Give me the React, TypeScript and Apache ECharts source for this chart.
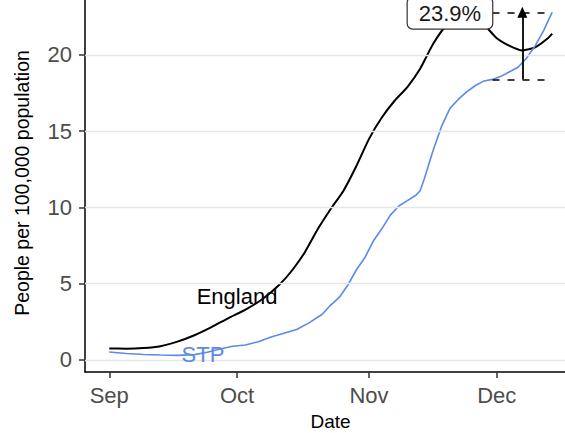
import React, { useEffect, useRef } from 'react';
import * as echarts from 'echarts';

// ---- data ----
const englandDates = [
  '2020-09-01', '2020-09-05', '2020-09-09', '2020-09-13', '2020-09-17', '2020-09-21',
  '2020-09-25', '2020-09-29', '2020-10-03', '2020-10-07', '2020-10-11', '2020-10-14',
  '2020-10-17', '2020-10-20', '2020-10-23', '2020-10-26', '2020-10-29', '2020-11-01',
  '2020-11-04', '2020-11-07', '2020-11-10', '2020-11-13', '2020-11-16', '2020-11-19',
  '2020-11-22', '2020-11-25', '2020-11-28', '2020-12-01', '2020-12-04', '2020-12-07',
  '2020-12-10', '2020-12-13', '2020-12-14',
];
const englandValues = [
  0.75, 0.74, 0.78, 0.9, 1.2, 1.62,
  2.15, 2.75, 3.3, 4.0, 4.95, 5.9,
  7.1, 8.6, 9.9, 11.1, 12.7, 14.5,
  15.9, 17.0, 17.9, 19.1, 20.7, 21.9,
  22.6, 22.7, 22.0, 21.1, 20.6, 20.3,
  20.5, 21.1, 21.4,
];

const stpDates = [
  '2020-09-01', '2020-09-05', '2020-09-09', '2020-09-13', '2020-09-17', '2020-09-21',
  '2020-09-24', '2020-09-27', '2020-09-30', '2020-10-03', '2020-10-06', '2020-10-09',
  '2020-10-12', '2020-10-15', '2020-10-18', '2020-10-21', '2020-10-23', '2020-10-25',
  '2020-10-27', '2020-10-29', '2020-10-31', '2020-11-02', '2020-11-04', '2020-11-06',
  '2020-11-08', '2020-11-10', '2020-11-12', '2020-11-13', '2020-11-14', '2020-11-16',
  '2020-11-18', '2020-11-20', '2020-11-22', '2020-11-24', '2020-11-26', '2020-11-28',
  '2020-11-30', '2020-12-02', '2020-12-04', '2020-12-06', '2020-12-08', '2020-12-10',
  '2020-12-12', '2020-12-13', '2020-12-14',
];
const stpValues = [
  0.52, 0.42, 0.36, 0.32, 0.3, 0.35,
  0.5, 0.72, 0.9, 0.98, 1.2, 1.5,
  1.75, 2.0, 2.45, 3.0, 3.6, 4.1,
  4.9, 5.9, 6.7, 7.8, 8.6, 9.5,
  10.1, 10.45, 10.8, 11.1, 11.9, 13.7,
  15.3, 16.5, 17.1, 17.6, 18.0, 18.3,
  18.4, 18.6, 18.9, 19.2, 19.8, 20.6,
  21.6, 22.2, 22.8,
];

const tickDates = ['2020-09-01', '2020-10-01', '2020-11-01', '2020-12-01'];
const tickLabels = ['Sep', 'Oct', 'Nov', 'Dec'];
const yTicks = [0, 5, 10, 15, 20];

const seriesNames = ['England', 'STP'];
const englandLabelAt = { date: '2020-10-01', value: 4.13 };
const stpLabelAt = { date: '2020-09-23', value: 0.33 };

const compareStart = '2020-11-30';
const compareEnd = '2020-12-13';
const arrowDate = '2020-12-07';
const lowerValue = 18.4;
const upperValue = 22.8;
const pctLabel = '23.9%';
const pctLabelAt = { date: '2020-11-20', value: 22.75 };

// ---- helpers ----
const BASE = Date.UTC(2020, 8, 1);
const toDay = (s: string) => {
  const [y, m, d] = s.split('-').map(Number);
  return (Date.UTC(y, m - 1, d) - BASE) / 86400000;
};
const FONT = '"Liberation Sans", Arial, Helvetica, sans-serif';
const BLUE = '#5b8ae8';

export default function App() {
  const ref = useRef<HTMLDivElement>(null);

  useEffect(() => {
    if (!ref.current) return;
    const chart = echarts.init(ref.current, undefined, { renderer: 'svg' });
    const tickDays = tickDates.map(toDay);

    const textPoint = (at: { date: string; value: number }, text: string, color: string, size: number) => ({
      symbol: 'rect',
      symbolSize: 1,
      itemStyle: { color: 'transparent' },
      data: [{ coord: [toDay(at.date), at.value], value: text }],
      label: {
        show: true,
        position: 'inside',
        formatter: text,
        color,
        fontSize: size,
        fontFamily: FONT,
      },
    });

    const option: any = {
      animation: false,
      backgroundColor: '#ffffff',
      grid: { left: 85, right: -11, top: -6, bottom: 61, containLabel: false, outerBoundsMode: 'none' },
      xAxis: {
        type: 'value',
        min: -5.7,
        max: 109.6,
        axisLine: { show: true, onZero: false, lineStyle: { color: '#000', width: 1.5 } },
        axisTick: { show: true, customValues: tickDays, length: 6, lineStyle: { color: '#333', width: 1.5 } },
        axisLabel: {
          customValues: tickDays,
          formatter: (v: number) => {
            const i = tickDays.findIndex((t) => Math.abs(t - v) < 0.01);
            return i >= 0 ? tickLabels[i] : '';
          },
          color: '#4d4d4d',
          fontSize: 22,
          margin: 12,
          fontFamily: FONT,
        },
        splitLine: { show: false },
        name: 'Date',
        nameLocation: 'middle',
        nameGap: 40,
        nameTextStyle: { color: '#000', fontSize: 19, fontFamily: FONT },
      },
      yAxis: {
        type: 'value',
        min: -0.79,
        max: 24,
        axisLine: { show: true, onZero: false, lineStyle: { color: '#000', width: 1.5 } },
        axisTick: { show: true, customValues: yTicks, length: 6, lineStyle: { color: '#333', width: 1.5 } },
        axisLabel: {
          customValues: yTicks,
          color: '#4d4d4d',
          fontSize: 22,
          margin: 13,
          fontFamily: FONT,
        },
        splitLine: { show: false },
        name: 'People per 100,000 population',
        nameLocation: 'middle',
        nameRotate: 90,
        nameGap: 53,
        nameTextStyle: { color: '#000', fontSize: 19.5, fontFamily: FONT },
      },
      series: [
        {
          type: 'line',
          data: [],
          z: 1,
          silent: true,
          markLine: {
            silent: true,
            symbol: 'none',
            label: { show: false },
            lineStyle: { color: '#e6e6e6', width: 1.3, type: 'solid' },
            data: yTicks.map((v) => ({ yAxis: v })),
          },
        },
        {
          name: seriesNames[0],
          type: 'line',
          z: 3,
          showSymbol: false,
          smooth: 0.2,
          lineStyle: { color: '#000', width: 2 },
          data: englandDates.map((d, i) => [toDay(d), englandValues[i]]),
          markPoint: textPoint(englandLabelAt, seriesNames[0], '#000', 22),
        },
        {
          name: seriesNames[1],
          type: 'line',
          z: 3,
          showSymbol: false,
          lineStyle: { color: BLUE, width: 1.6 },
          data: stpDates.map((d, i) => [toDay(d), stpValues[i]]),
          markPoint: textPoint(stpLabelAt, seriesNames[1], BLUE, 22),
        },
        {
          type: 'line',
          data: [],
          z: 5,
          silent: true,
          markLine: {
            silent: true,
            symbol: 'none',
            label: { show: false },
            lineStyle: { color: '#000', width: 1.6, type: [7, 8] },
            data: [
              [{ coord: [toDay(compareStart), upperValue] }, { coord: [toDay(compareEnd), upperValue] }],
              [{ coord: [toDay(compareStart), lowerValue] }, { coord: [toDay(compareEnd), lowerValue] }],
              [
                { coord: [toDay(arrowDate), lowerValue], symbol: 'none', lineStyle: { type: 'solid', width: 1.8 } },
                { coord: [toDay(arrowDate), upperValue], symbol: 'triangle', symbolSize: [10, 11], lineStyle: { type: 'solid', width: 1.8 } },
              ],
            ],
          },
        },
        {
          type: 'line',
          data: [],
          z: 10,
          silent: true,
          markPoint: {
            symbol: 'rect',
            symbolSize: 1,
            itemStyle: { color: 'transparent' },
            data: [{ coord: [toDay(pctLabelAt.date), pctLabelAt.value], value: pctLabel }],
            label: {
              show: true,
              position: 'inside',
              formatter: pctLabel,
              color: '#1a1a1a',
              fontSize: 22,
              fontFamily: FONT,
              backgroundColor: '#ffffff',
              borderColor: '#333333',
              borderWidth: 1.2,
              borderRadius: 5,
              padding: [5, 11, 4, 11],
            },
          },
        },
      ],
    };

    chart.setOption(option);
    return () => chart.dispose();
  }, []);

  return <div ref={ref} style={{ width: 565, height: 433, position: 'absolute', left: 0, top: 0 }} />;
}
